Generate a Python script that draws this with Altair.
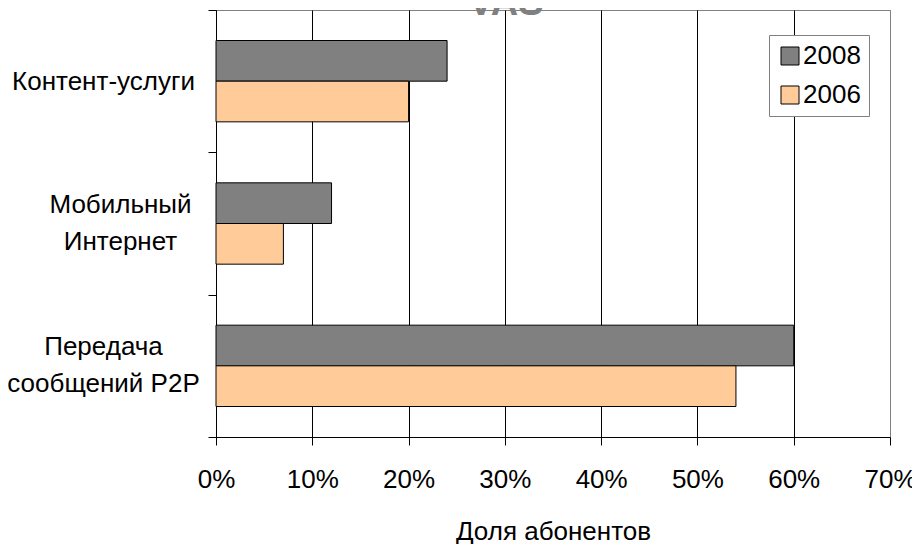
import altair as alt
import pandas as pd

chart_title = "VAS"
categories = ["Контент-услуги", "Мобильный Интернет", "Передача сообщений P2P"]
years = ["2008", "2006"]
share_2008 = [0.24, 0.12, 0.60]
share_2006 = [0.20, 0.07, 0.54]
x_ticks = [0.0, 0.1, 0.2, 0.3, 0.4, 0.5, 0.6, 0.7]
colors = ["#808080", "#FFCC99"]

rows = []
for c, a, b in zip(categories, share_2008, share_2006):
    rows.append({"cat": c, "year": "2008", "share": a})
    rows.append({"cat": c, "year": "2006", "share": b})
df = pd.DataFrame(rows)

FONT = "Liberation Sans"

label_expr = (
    "indexof(datum.label, ' ') > 0 ? "
    "[substring(datum.label, 0, indexof(datum.label, ' ')), "
    "substring(datum.label, indexof(datum.label, ' ') + 1)] : datum.label"
)

bars = alt.Chart(df).mark_bar(stroke="black", strokeWidth=1).encode(
    y=alt.Y(
        "cat:N",
        sort=categories,
        scale=alt.Scale(paddingInner=0, paddingOuter=0),
        axis=alt.Axis(
            title=None,
            tickBand="extent",
            tickSize=8,
            tickColor="black",
            domainColor="black",
            grid=False,
            labelFont=FONT,
            labelFontSize=26,
            labelColor="black",
            labelAlign="center",
            labelBaseline={"condition": {"test": "datum.value != 'Контент-услуги'", "value": "line-bottom"}, "value": "middle"},
            labelLineHeight=37,
            labelLimit=0,
            labelExpr=label_expr,
            labelPadding={"condition": {"test": "datum.value == 'Мобильный Интернет'", "value": 88}, "value": 105},
        ),
    ),
    yOffset=alt.YOffset("year:N", sort=years, scale=alt.Scale(paddingOuter=0.75, paddingInner=0)),
    x=alt.X(
        "share:Q",
        scale=alt.Scale(domain=[0, 0.7], nice=False),
        axis=alt.Axis(
            values=x_ticks,
            format=".0%",
            title="Доля абонентов",
            tickSize=8,
            tickColor="black",
            domainColor="black",
            grid=True,
            gridColor={"condition": {"test": "datum.value >= 0.69", "value": "#808080"}, "value": "black"},
            gridOpacity=1,
            labelFont=FONT,
            labelFontSize=26,
            labelColor="black",
            labelPadding=21,
            labelFlush=False,
            titleFont=FONT,
            titleFontSize=26,
            titleFontWeight="normal",
            titleColor="black",
            titlePadding=26,
        ),
    ),
    color=alt.Color(
        "year:N",
        sort=years,
        scale=alt.Scale(domain=years, range=colors),
        legend=alt.Legend(
            title=None,
            orient="none",
            legendX=553,
            legendY=25,
            strokeColor="#808080",
            fillColor="white",
            padding=8,
            symbolType="square",
            symbolSize=324,
            symbolStrokeColor="black",
            symbolStrokeWidth=1,
            labelFont=FONT,
            labelFontSize=26,
            labelColor="black",
            labelOffset=0,
            rowPadding=13,
        ),
    ),
)

title_mark = alt.Chart(pd.DataFrame({"t": [chart_title]})).mark_text(
    font=FONT,
    fontSize=38,
    fontWeight="bold",
    color="#808080",
    align="center",
    baseline="alphabetic",
).encode(text="t:N", x=alt.value(290), y=alt.value(5))

chart = alt.layer(bars, title_mark).properties(
    width=674,
    height=427,
    autosize=alt.AutoSizeParams(type="none"),
    padding={"left": 208, "top": 2, "right": 22, "bottom": 110},
).configure_view(stroke="#808080", strokeWidth=1)

chart.save("out.html", embed_options={"renderer": "svg", "actions": False})
